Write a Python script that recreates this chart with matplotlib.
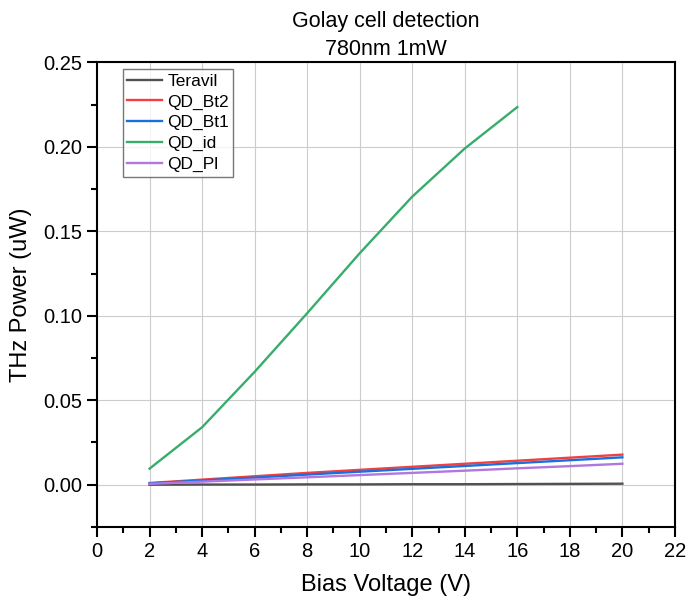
import matplotlib
matplotlib.use("Agg")
import matplotlib.pyplot as plt
from matplotlib.ticker import MultipleLocator, FormatStrFormatter

plt.rcParams['font.family'] = ['Liberation Sans', 'DejaVu Sans']

bias = [2, 4, 6, 8, 10, 12, 14, 16, 18, 20]
teravil = [0.0000, 0.0001, 0.0001, 0.0002, 0.0002, 0.0003, 0.0003, 0.0004, 0.0005, 0.0006]
qd_bt2 = [0.0010, 0.0030, 0.0050, 0.0070, 0.0088, 0.0106, 0.0124, 0.0142, 0.0160, 0.0178]
qd_bt1 = [0.0008, 0.0025, 0.0042, 0.0060, 0.0077, 0.0094, 0.0111, 0.0128, 0.0145, 0.0162]
bias_id = [2, 4, 6, 8, 10, 12, 14, 16]
qd_id = [0.0095, 0.0340, 0.0668, 0.1015, 0.1370, 0.1705, 0.1990, 0.2235]
qd_pl = [0.0005, 0.0018, 0.0031, 0.0044, 0.0057, 0.0070, 0.0083, 0.0097, 0.0110, 0.0124]

fig = plt.figure(figsize=(6.88, 6.05), dpi=100)
ax = fig.add_axes([0.141, 0.129, 0.840, 0.768])

ax.plot(bias, teravil, color='#515151', lw=1.7, label='Teravil')
ax.plot(bias, qd_bt2, color='#F14040', lw=1.7, label='QD_Bt2')
ax.plot(bias, qd_bt1, color='#1A6FDF', lw=1.7, label='QD_Bt1')
ax.plot(bias_id, qd_id, color='#37AD6B', lw=1.7, label='QD_id')
ax.plot(bias, qd_pl, color='#B177DE', lw=1.7, label='QD_Pl')

ax.set_xlim(0, 22)
ax.set_ylim(-0.025, 0.25)
ax.xaxis.set_major_locator(MultipleLocator(2))
ax.xaxis.set_minor_locator(MultipleLocator(1))
ax.yaxis.set_major_locator(MultipleLocator(0.05))
ax.yaxis.set_minor_locator(MultipleLocator(0.025))
ax.yaxis.set_major_formatter(FormatStrFormatter('%.2f'))

ax.grid(True, which='major', color='#cccccc', lw=0.8)
ax.set_axisbelow(True)
for s in ax.spines.values():
    s.set_linewidth(1.5)
ax.tick_params(which='both', direction='out', top=False, right=False, width=1.5)
ax.tick_params(which='major', length=7, labelsize=14.5)
ax.tick_params(which='minor', length=4)

ax.set_xlabel('Bias Voltage (V)', fontsize=17, labelpad=10)
ax.set_ylabel('THz Power (uW)', fontsize=17, labelpad=8)
ax.set_title('Golay cell detection\n780nm 1mW', fontsize=15.5, pad=5, linespacing=1.48)

leg = ax.legend(loc='upper left', bbox_to_anchor=(0.045, 0.985), fontsize=12.5,
                frameon=True, fancybox=False, handlelength=2.0, handletextpad=0.3,
                labelspacing=0.32, borderpad=0.25, borderaxespad=0)
leg.get_frame().set_edgecolor('#555555')
leg.get_frame().set_linewidth(1.0)

fig.savefig('out.png', dpi=100)
